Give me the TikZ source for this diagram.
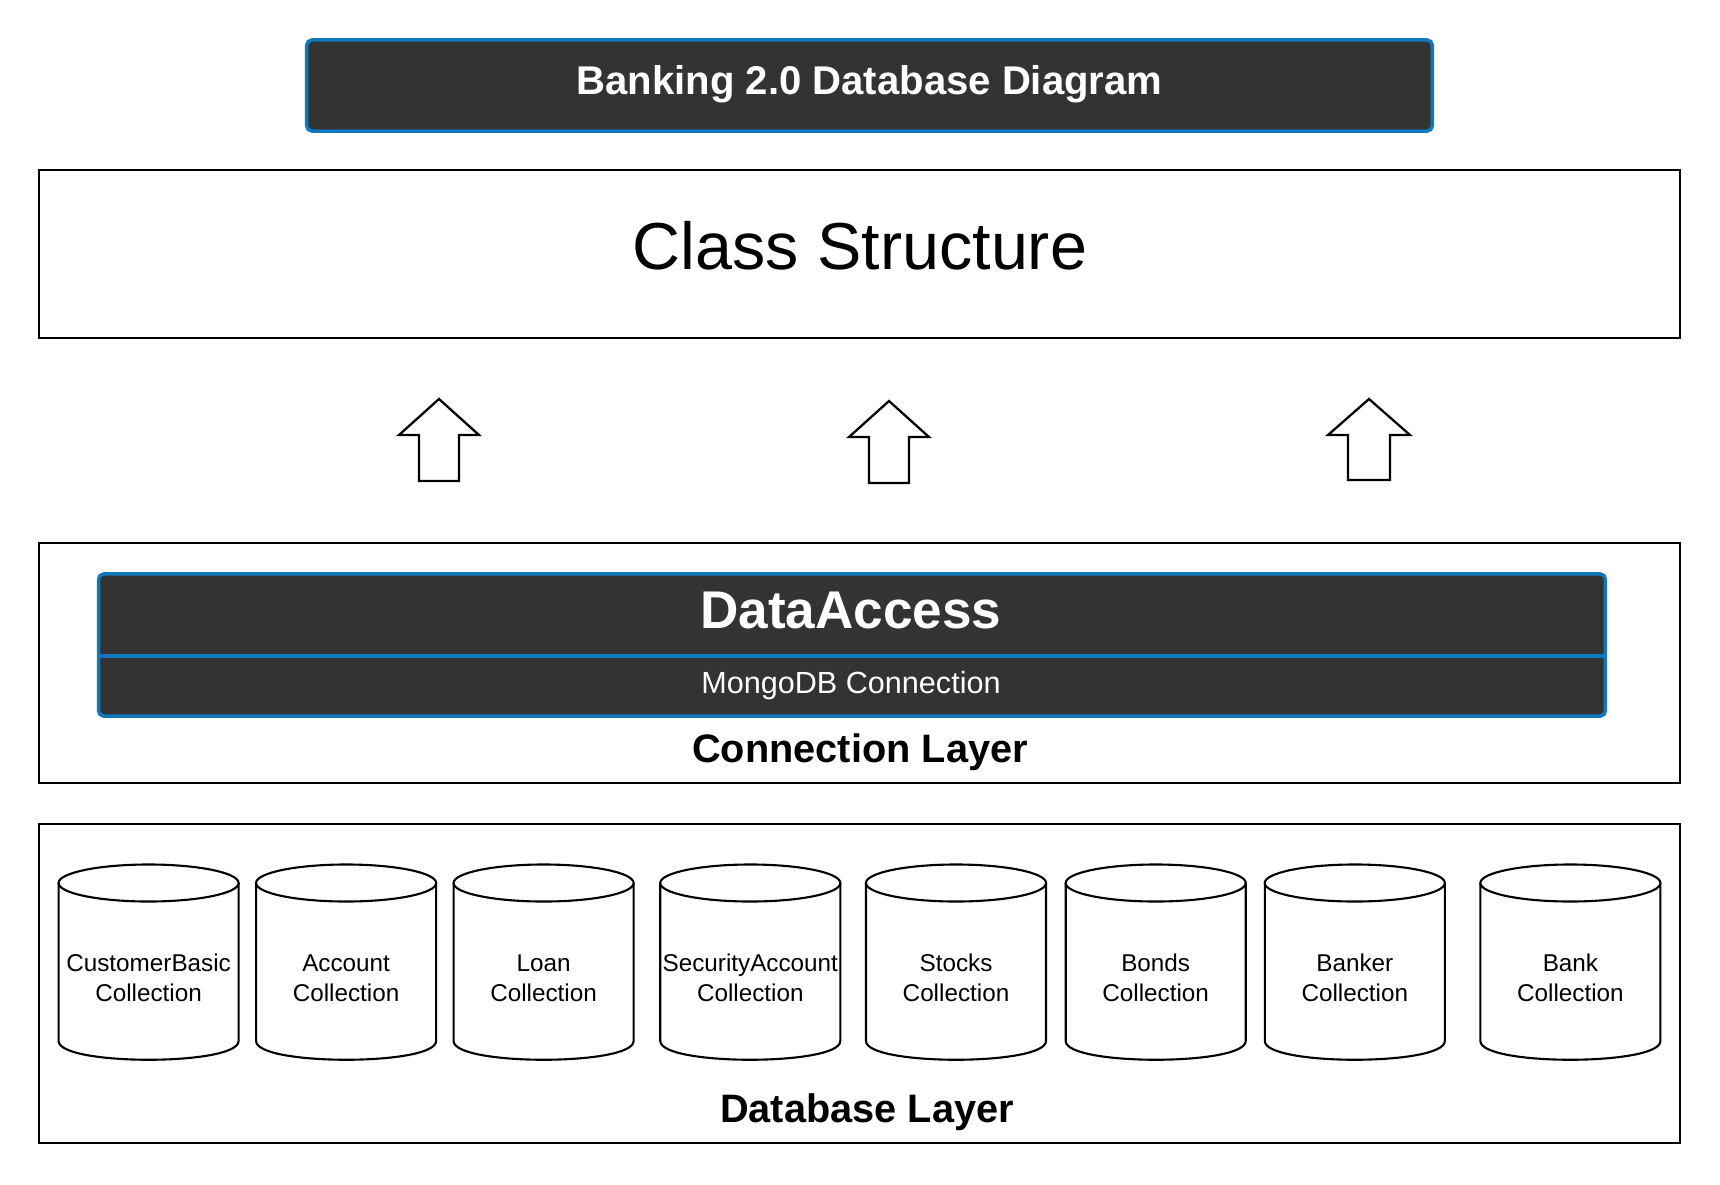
\documentclass[tikz,border=0pt]{standalone}
\usepackage{fontspec}
\setmainfont{Liberation Sans}
\definecolor{darkfill}{HTML}{333333}
\definecolor{blueline}{HTML}{0F78BE}
\begin{document}
\begin{tikzpicture}[x=0.01cm,y=-0.01cm,
  layerbox/.style={draw=black,line width=0.55pt,fill=white,inner sep=0pt},
  darkbox/.style={draw=blueline,line width=1pt,fill=darkfill,rounded corners=1.5pt,inner sep=0pt},
  whitebold/.style={text=white,font=\bfseries,inner sep=0pt,anchor=base},
  blackbold/.style={text=black,font=\bfseries\fontsize{11.3}{13.5}\selectfont,inner sep=0pt,anchor=base},
  blockarrow/.style={draw=black,line width=0.65pt,fill=white,line join=miter},
  cylline/.style={draw=black,line width=0.6pt},
  cyltext/.style={align=center,inner sep=0pt,font=\fontsize{6.9}{8.4}\selectfont}]
\useasboundingbox (0,0) rectangle (1720,1184);
% title
\node[darkbox,minimum width=11.25cm,minimum height=0.91cm] (title) at (869.5,85.5) {};
\node[whitebold,font=\bfseries\fontsize{11.4}{13.5}\selectfont] (titletext) at (869.5,94) {Banking 2.0 Database Diagram};
% class structure
\node[layerbox,minimum width=16.4cm,minimum height=1.68cm] (cs) at (859.5,254) {};
\node[inner sep=0pt,anchor=base,font=\fontsize{18.9}{21}\selectfont] (cstext) at (860,269) {Class Structure};
% arrows
\draw[blockarrow] (439,399) -- (479,435) -- (459,435) -- (459,481) -- (419,481) -- (419,435) -- (399,435) -- cycle;
\draw[blockarrow] (889,401) -- (929,437) -- (909,437) -- (909,483) -- (869,483) -- (869,437) -- (849,437) -- cycle;
\draw[blockarrow] (1369,399) -- (1410,435) -- (1390,435) -- (1390,480) -- (1348,480) -- (1348,435) -- (1328,435) -- cycle;
% connection layer
\node[layerbox,minimum width=16.4cm,minimum height=2.40cm] (conn) at (859.5,663) {};
\node[darkbox,minimum width=15.06cm,minimum height=1.42cm] (da) at (852,645) {};
\coordinate (divl) at (99,656);
\coordinate (divr) at (1605,656);
\draw[blueline,line width=1pt] (divl) -- (divr);
\node[whitebold,font=\bfseries\fontsize{15.1}{18}\selectfont] (datext) at (851,628) {DataAccess};
\node[text=white,inner sep=0pt,anchor=base,font=\fontsize{8.7}{10.5}\selectfont] (mongo) at (851,693) {MongoDB Connection};
\node[blackbold] (connlabel) at (860,762) {Connection Layer};
% database layer
\node[layerbox,minimum width=16.4cm,minimum height=3.19cm] (db) at (859.5,983.5) {};
\node[blackbold] (dblabel) at (867,1122) {Database Layer};
\foreach \cx/\nm/\la in {148.6/c1/CustomerBasic,346.1/c2/Account,543.6/c3/Loan,750.3/c4/SecurityAccount,956/c5/Stocks,1155.7/c6/Bonds,1354.8/c7/Banker,1570.4/c8/Bank}{
  \draw[cylline,fill=white] (\cx-90,883) -- (\cx-90,1041) .. controls (\cx-90,1066) and (\cx+90,1066) .. (\cx+90,1041) -- (\cx+90,883);
  \draw[cylline,fill=white] (\cx,883) ellipse [x radius=0.9cm,y radius=0.185cm];
  \node[cyltext] (\nm) at (\cx,978) {\la\\Collection};
}
\end{tikzpicture}
\end{document}
